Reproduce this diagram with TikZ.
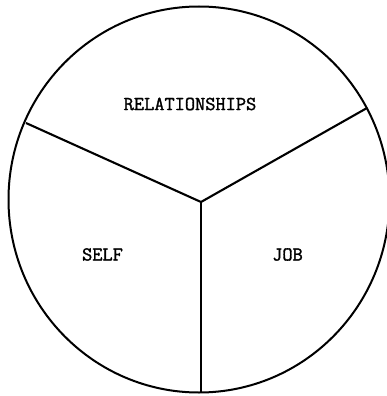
\documentclass[tikz,border=0pt]{standalone}
\usepackage{fontspec}
\setmonofont[FakeBold=1.6]{Latin Modern Mono}
\begin{document}
\begin{tikzpicture}[x=1pt,y=-1pt,
  rim/.style={line width=2pt,draw=black},
  spoke/.style={line width=2.1pt,draw=black},
  lbl/.style={font=\ttfamily\fontsize{19.8}{20}\selectfont,inner sep=0pt,anchor=center}]
\useasboundingbox (0,0) rectangle (387,396);
\draw[rim] (199,199.5) ellipse [x radius=190.5, y radius=193];
\coordinate (c) at (201,202);
\coordinate (l) at (26,123);
\coordinate (r) at (367,108);
\coordinate (b) at (201,392.5);
\draw[spoke] (l) -- (c) -- (r);
\draw[spoke] (c) -- (b);
\node[lbl] (rel) at (190,104) {RELATIONSHIPS};
\node[lbl] (self) at (102.5,254.5) {SELF};
\node[lbl] (job) at (287.5,254.5) {JOB};
\end{tikzpicture}
\end{document}
